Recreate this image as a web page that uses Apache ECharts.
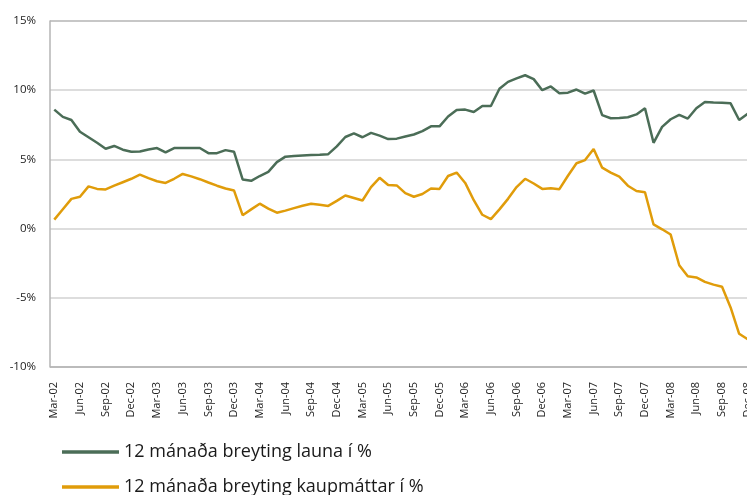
<!DOCTYPE html>
<html>
<head>
<meta charset="utf-8">
<script src="https://cdn.jsdelivr.net/npm/echarts@6/dist/echarts.min.js"></script>
<style>
html,body{margin:0;padding:0;background:#fff;overflow:hidden;}
#c{width:760px;height:495px;}
</style>
</head>
<body>
<div id="c"></div>
<script>
// Months Mar-02 .. Dec-08
const monthNames = ['Jan','Feb','Mar','Apr','May','Jun','Jul','Aug','Sep','Oct','Nov','Dec'];
const categories = [];
for (let y = 2002; y <= 2008; y++) {
  for (let m = 0; m < 12; m++) {
    if (y === 2002 && m < 2) continue;
    categories.push(monthNames[m] + '-' + String(y).slice(2));
  }
}

const seriesNames = ['12 mánaða breyting launa í %', '12 mánaða breyting kaupmáttar í %'];

const launa = [
  8.6, 8.07, 7.85, 7.0, 6.6, 6.2, 5.77, 5.97, 5.7, 5.55,
  5.57, 5.72, 5.82, 5.5, 5.82, 5.82, 5.82, 5.82, 5.45, 5.45,
  5.67, 5.55, 3.55, 3.45, 3.8, 4.1, 4.8, 5.2, 5.25, 5.28,
  5.31, 5.34, 5.38, 5.94, 6.62, 6.88, 6.6, 6.92, 6.72, 6.47,
  6.5, 6.65, 6.8, 7.04, 7.39, 7.39, 8.1, 8.57, 8.6, 8.42,
  8.86, 8.86, 10.1, 10.6, 10.85, 11.08, 10.8, 10.0, 10.27, 9.78,
  9.82, 10.05, 9.75, 9.98, 8.2, 7.97, 8.0, 8.05, 8.25, 8.7,
  6.2, 7.35, 7.9, 8.22, 7.95, 8.7, 9.15, 9.12, 9.1, 9.05,
  7.85, 8.3
];

const kaupmattar = [
  0.65, 1.4, 2.15, 2.3, 3.05, 2.87, 2.83, 3.1, 3.35, 3.6,
  3.9, 3.65, 3.42, 3.3, 3.6, 3.95, 3.77, 3.57, 3.33, 3.1,
  2.9, 2.75, 0.97, 1.39, 1.8, 1.44, 1.15, 1.3, 1.48, 1.65,
  1.8, 1.72, 1.64, 2.0, 2.39, 2.21, 2.03, 3.0, 3.67, 3.15,
  3.12, 2.56, 2.3, 2.5, 2.9, 2.87, 3.8, 4.05, 3.3, 2.05,
  1.0, 0.68, 1.39, 2.15, 3.0, 3.6, 3.26, 2.87, 2.92, 2.85,
  3.82, 4.72, 4.95, 5.75, 4.4, 4.05, 3.75, 3.1, 2.72, 2.63,
  0.3, -0.05, -0.43, -2.65, -3.45, -3.53, -3.85, -4.05, -4.2, -5.7,
  -7.6, -8.0
];

const yTicks = [-10, -5, 0, 5, 10, 15];

const FONT = '"Open Sans", "DejaVu Sans", sans-serif';
const legendText = {fontFamily: FONT, fontSize: 18, color: '#1a1a1a'};
const chart = echarts.init(document.getElementById('c'), null, {renderer: 'canvas'});
chart.setOption({
  animation: false,
  backgroundColor: '#ffffff',
  grid: {left: 50, top: 21, width: 702, height: 346, containLabel: false},
  legend: [
    {
      orient: 'vertical', left: 57, top: 438,
      itemWidth: 57, itemHeight: 3.5, icon: 'rect',
      textStyle: legendText,
      data: [seriesNames[0]]
    },
    {
      orient: 'vertical', left: 57, top: 473,
      itemWidth: 57, itemHeight: 3.5, icon: 'rect',
      textStyle: legendText,
      data: [seriesNames[1]]
    }
  ],
  xAxis: {
    type: 'category',
    data: categories,
    boundaryGap: true,
    axisLine: {show: false, onZero: true},
    axisTick: {show: false},
    axisLabel: {
      interval: 2,
      rotate: 90,
      margin: 15,
      padding: [5, 0, 0, 0],
      fontFamily: FONT,
      fontSize: 11,
      color: '#222'
    },
    splitLine: {show: false}
  },
  yAxis: {
    type: 'value',
    min: yTicks[0],
    max: yTicks[yTicks.length - 1],
    interval: 5,
    axisLine: {show: true, lineStyle: {color: '#b4b4b4', width: 1.5}},
    axisTick: {show: false},
    axisLabel: {
      margin: 14,
      fontFamily: FONT,
      fontSize: 11.5,
      color: '#222',
      formatter: v => v + '%'
    },
    splitLine: {
      show: true,
      lineStyle: {color: ['#a4a4a4', '#d2d2d2', '#d2d2d2', '#d2d2d2', '#d2d2d2', '#b4b4b4'], width: 1.5}
    }
  },
  series: [
    {
      name: seriesNames[0],
      type: 'line',
      data: launa,
      showSymbol: false,
      symbol: 'none',
      lineStyle: {color: '#4b6d57', width: 2.5},
      itemStyle: {color: '#4b6d57'}
    },
    {
      name: seriesNames[1],
      type: 'line',
      data: kaupmattar,
      showSymbol: false,
      symbol: 'none',
      lineStyle: {color: '#e09c0a', width: 2.5},
      itemStyle: {color: '#e09c0a'}
    }
  ]
});
</script>
</body>
</html>
